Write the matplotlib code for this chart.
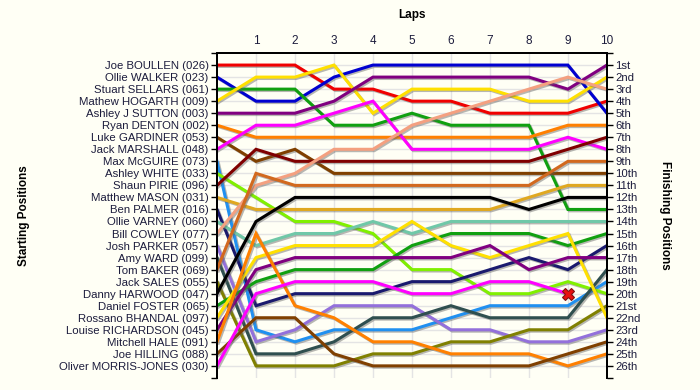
import matplotlib
matplotlib.use("Agg")
import matplotlib.pyplot as plt
import matplotlib.patheffects as pe

# drivers in starting order
drivers = [
    "Joe BOULLEN (026)", "Ollie WALKER (023)", "Stuart SELLARS (061)",
    "Mathew HOGARTH (009)", "Ashley J SUTTON (003)", "Ryan DENTON (002)",
    "Luke GARDINER (053)", "Jack MARSHALL (048)", "Max McGUIRE (073)",
    "Ashley WHITE (033)", "Shaun PIRIE (096)", "Matthew MASON (031)",
    "Ben PALMER (016)", "Ollie VARNEY (060)", "Bill COWLEY (077)",
    "Josh PARKER (057)", "Amy WARD (099)", "Tom BAKER (069)",
    "Jack SALES (055)", "Danny HARWOOD (047)", "Daniel FOSTER (065)",
    "Rossano BHANDAL (097)", "Louise RICHARDSON (045)", "Mitchell HALE (091)",
    "Joe HILLING (088)", "Oliver MORRIS-JONES (030)",
]

# position at the end of each lap (lap 0 = grid)
positions = [
    [1, 1, 1, 3, 3, 4, 4, 5, 5, 5, 4],
    [2, 4, 4, 2, 1, 1, 1, 1, 1, 1, 5],
    [3, 3, 3, 6, 6, 5, 6, 6, 6, 13, 13],
    [4, 2, 2, 1, 5, 3, 3, 3, 4, 4, 2],
    [5, 5, 5, 4, 2, 2, 2, 2, 2, 3, 1],
    [6, 7, 7, 7, 7, 7, 7, 7, 7, 6, 6],
    [7, 9, 8, 10, 10, 10, 10, 10, 10, 10, 10],
    [8, 6, 6, 5, 4, 8, 8, 8, 8, 7, 8],
    [9, 23, 24, 23, 23, 23, 22, 21, 21, 21, 19],
    [10, 12, 14, 14, 15, 18, 18, 20, 20, 19, 20],
    [11, 8, 9, 9, 9, 9, 9, 9, 9, 8, 7],
    [12, 13, 13, 13, 13, 13, 13, 13, 12, 11, 11],
    [13, 21, 20, 20, 20, 19, 19, 18, 17, 18, 16],
    [14, 16, 15, 15, 14, 15, 14, 14, 14, 14, 14],
    [15, 11, 10, 8, 8, 6, 5, 4, 3, 2, 3],
    [16, 24, 23, 21, 21, 21, 23, 23, 24, 24, 23],
    [17, 25, 25, 24, 22, 22, 21, 22, 22, 22, 18],
    [18, 10, 11, 11, 11, 11, 11, 11, 11, 9, 9],
    [19, 26, 26, 26, 25, 25, 24, 24, 23, 23, 21],
    [20, 14, 12, 12, 12, 12, 12, 12, 13, 12, 12],
    [21, 19, 18, 18, 18, 16, 15, 15, 15, 16, 15],
    [22, 17, 16, 16, 16, 14, 16, 17, 16, 15, 22],
    [23, 18, 17, 17, 17, 17, 17, 16, 18, 17, 17],
    [24, 15, 21, 22, 24, 24, 25, 25, 25, 26, 25],
    [25, 22, 22, 25, 26, 26, 26, 26, 26, 25, 24],
    [26, 20, 19, 19, 19, 20, 20, 19, 19, 20],  # retired on lap 9
]

colors = [
    "#f00000", "#0000d0", "#10a010", "#ffe000", "#800080", "#ff8000",
    "#804000", "#ff00ff", "#2090f0", "#80f000", "#800000", "#e0a820",
    "#1a1a6e", "#70c8a8", "#f4a080", "#9370db", "#2f4f4f", "#d2691e",
    "#808000", "#000000", "#10a010", "#ffe000", "#800080", "#ff8000",
    "#804000", "#ff00ff",
]

n_laps = 10
n_pos = len(drivers)


def ordinal(n):
    if 10 <= n % 100 <= 20:
        suf = "th"
    else:
        suf = {1: "st", 2: "nd", 3: "rd"}.get(n % 10, "th")
    return f"{n}{suf}"


bg = "#fffff5"
txt = "#1c1c3c"
plt.rcParams["font.family"] = ["Liberation Sans", "DejaVu Sans"]

fig = plt.figure(figsize=(7, 3.9), dpi=100, facecolor=bg)
ax = fig.add_axes([0.31, 0.031, 0.557, 0.833], facecolor=bg)

shadow = [pe.SimpleLineShadow(offset=(1, -1), shadow_color="#606060", alpha=0.45),
          pe.Normal()]

for pos, col in zip(positions, colors):
    laps = list(range(len(pos)))
    ax.plot(laps, pos, color=col, lw=2.2, solid_joinstyle="miter",
            path_effects=shadow, zorder=3)
    if len(pos) < n_laps + 1:
        ax.plot(laps[-1], pos[-1], marker="X", ms=8, color="#e81010",
                mec="#801010", mew=0.8, zorder=5)

ax.set_xlim(0, n_laps)
ax.set_ylim(n_pos + 1, 0)

# grid
for lap in range(1, n_laps):
    ax.axvline(lap, color="#e4e4e4", lw=1, zorder=1)
for p in range(1, n_pos + 1):
    ax.axhline(p, color="#e4e4e4", lw=1, zorder=1)

ticks = list(range(0, n_pos + 2))
ax.set_yticks(ticks)
ax.set_yticklabels([""] + drivers + [""], fontsize=8.2, color=txt)
ax.tick_params(axis="y", length=4, width=1, pad=2)

ax.xaxis.tick_top()
ax.set_xticks(range(1, n_laps + 1))
ax.tick_params(axis="x", length=0, pad=4, labelsize=8.5, labelcolor=txt)
ax.set_xlabel("Laps", fontweight="bold", fontsize=8.5)
ax.xaxis.set_label_position("top")
ax.xaxis.set_label_coords(0.5, 1.108)

ax.set_ylabel("Starting Positions", fontweight="bold", fontsize=8.5)
ax.yaxis.set_label_coords(-0.48, 0.5)

ax2 = ax.twinx()
ax2.set_ylim(n_pos + 1, 0)
ax2.set_yticks(ticks)
ax2.set_yticklabels([""] + [ordinal(i) for i in range(1, n_pos + 1)] + [""],
                    fontsize=8.2, color=txt)
ax2.tick_params(axis="y", length=4, width=1, pad=2)
ax2.set_ylabel("Finishing Positions", fontweight="bold", fontsize=8.5,
               rotation=270, va="center")
ax2.yaxis.set_label_coords(1.149, 0.5)

for a in (ax, ax2):
    for side in ("left", "right", "top"):
        a.spines[side].set_linewidth(1.4)
    a.spines["bottom"].set_visible(False)

fig.savefig("out.png", dpi=100, facecolor=bg)
